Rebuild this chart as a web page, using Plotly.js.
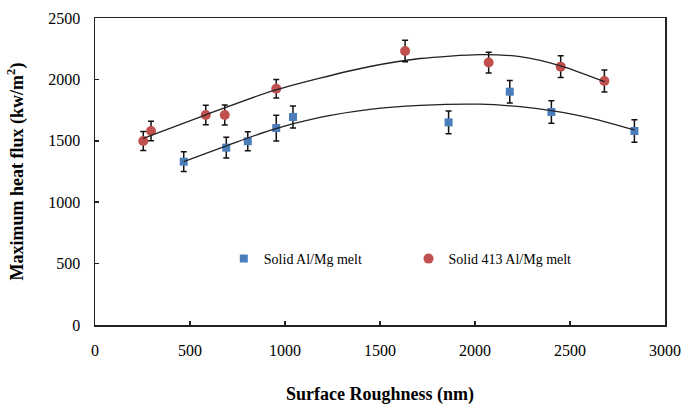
<!DOCTYPE html>
<html>
<head>
<meta charset="utf-8">
<script src="https://cdn.plot.ly/plotly-3.0.1.min.js"></script>
<style>html,body{margin:0;padding:0;background:#fff;}#chart{width:684px;height:405px;}</style>
</head>
<body>
<div id="chart"></div>
<script>
// Solid Al/Mg melt (blue squares)
var alX = [467, 691, 804, 954, 1042, 1861, 2183, 2402, 2839];
var alY = [1330, 1444, 1496, 1604, 1694, 1650, 1900, 1735, 1580];
var alErr = [80, 85, 78, 105, 90, 92, 92, 92, 92];

// Solid 413 Al/Mg melt (red circles)
var a413X = [254, 295, 583, 683, 954, 1632, 2072, 2451, 2681];
var a413Y = [1498, 1580, 1710, 1710, 1924, 2231, 2137, 2104, 1987];
var a413Err = [77, 79, 80, 82, 75, 88, 85, 88, 90];

// Trend lines
var trendAlX = [467, 691, 921, 1184, 1447, 1711, 2026, 2237, 2402, 2620, 2839];
var trendAlY = [1330, 1458, 1585, 1690, 1756, 1788, 1798, 1778, 1745, 1680, 1588];
var trend413X = [254, 583, 921, 1184, 1447, 1711, 2026, 2237, 2451, 2681];
var trend413Y = [1520, 1712, 1900, 2010, 2105, 2170, 2202, 2185, 2110, 1981];

var xTicks = [0, 500, 1000, 1500, 2000, 2500, 3000];
var yTicks = [0, 500, 1000, 1500, 2000, 2500];

var FONT = 'Liberation Serif, Times New Roman, serif';
var BLUE = '#4A7EBB';
var RED = '#C0504D';

var traces = [
  {
    x: alX, y: alY, type: 'scatter', mode: 'markers',
    name: 'Solid Al/Mg melt', legend: 'legend',
    marker: {symbol: 'square', size: 8, color: BLUE},
    error_y: {type: 'data', array: alErr, visible: true, color: '#111', thickness: 1.5, width: 3}
  },
  {
    x: a413X, y: a413Y, type: 'scatter', mode: 'markers',
    name: 'Solid 413 Al/Mg melt', legend: 'legend2',
    marker: {symbol: 'circle', size: 10, color: RED},
    error_y: {type: 'data', array: a413Err, visible: true, color: '#111', thickness: 1.5, width: 3}
  },
  {
    x: trendAlX, y: trendAlY, type: 'scatter', mode: 'lines', showlegend: false,
    line: {color: '#222', width: 1.3, shape: 'spline', smoothing: 0.7}, hoverinfo: 'skip'
  },
  {
    x: trend413X, y: trend413Y, type: 'scatter', mode: 'lines', showlegend: false,
    line: {color: '#222', width: 1.3, shape: 'spline', smoothing: 0.7}, hoverinfo: 'skip'
  }
];

var layout = {
  width: 684, height: 405,
  margin: {l: 95, r: 19, t: 18, b: 80},
  paper_bgcolor: '#fff', plot_bgcolor: '#fff',
  font: {family: FONT, color: '#000', size: 16},
  showlegend: true,
  xaxis: {
    range: [0, 3000], tickvals: xTicks, ticktext: xTicks.map(String),
    showgrid: false, zeroline: false,
    showline: true, linecolor: '#222', linewidth: 1.5, mirror: true,
    ticks: 'inside', ticklen: 4, tickwidth: 1.5, tickcolor: '#222',
    tickfont: {family: FONT, size: 16, color: '#000'},
    ticklabelstandoff: 10,
    title: {text: '<b>Surface Roughness (nm)</b>', font: {family: FONT, size: 18, color: '#000'}, standoff: 32}
  },
  yaxis: {
    range: [0, 2500], tickvals: yTicks, ticktext: yTicks.map(String),
    showgrid: false, zeroline: false,
    showline: true, linecolor: '#222', linewidth: 1.5, mirror: true,
    ticks: 'inside', ticklen: 4, tickwidth: 1.5, tickcolor: '#222',
    tickfont: {family: FONT, size: 16, color: '#000'},
    ticklabelstandoff: 10,
    title: {text: '<b>Maximum heat flux (kw/m<sup>2</sup>)</b>', font: {family: FONT, size: 18, color: '#000'}, standoff: 20}
  },
  legend: {
    x: 0.226, y: 0.215, xanchor: 'left', yanchor: 'middle',
    bgcolor: 'rgba(0,0,0,0)', borderwidth: 0, itemwidth: 30,
    font: {family: FONT, size: 14, color: '#000'}
  },
  legend2: {
    x: 0.55, y: 0.215, xanchor: 'left', yanchor: 'middle',
    bgcolor: 'rgba(0,0,0,0)', borderwidth: 0, itemwidth: 30,
    font: {family: FONT, size: 14, color: '#000'}
  }
};

Plotly.newPlot('chart', traces, layout, {displayModeBar: false, staticPlot: true});
</script>
</body>
</html>
